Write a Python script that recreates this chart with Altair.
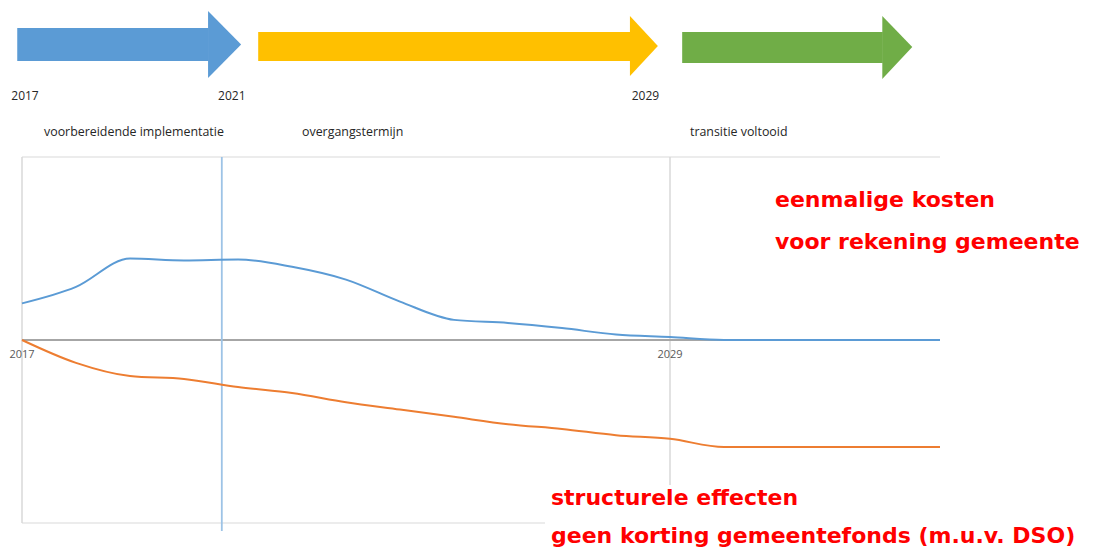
import altair as alt
import pandas as pd

# ---------------- data ----------------
years = list(range(2017, 2035))
eenmalige_kosten = [20, 29, 44.5, 43.5, 44, 40, 33, 21, 11, 9.3, 6.5, 3, 1.6, 0, 0, 0, 0, 0]
structurele_effecten = [0, -12.5, -19.7, -21.3, -25.7, -29, -34, -38, -42, -46, -48.6, -52, -54,
                        -58.5, -58.5, -58.5, -58.5, -58.5]

tick_years = [2017, 2029]
timeline_years = [2017, 2021, 2029]
marker_year = [2020.7]

arrow_names = ["voorbereiding", "overgang", "voltooid"]
arrow_start = [2016.85, 2021.51, 2029.71]
arrow_head_base = [2020.54, 2028.70, 2033.58]
arrow_tip = [2021.18, 2029.24, 2034.16]
shaft_top = [0.56, 0.44, 0.44]
shaft_bottom = [-0.47, -0.47, -0.53]
head_top = [1.09, 0.94, 0.94]
head_bottom = [-1.0, -0.94, -1.03]
tip_mid = [0.05, 0.0, -0.03]
arrow_fill = ["#5B9BD5", "#FFC000", "#70AD47"]

phase_labels = ["voorbereidende implementatie", "overgangstermijn", "transitie voltooid"]
red_labels = ["eenmalige kosten", "voor rekening gemeente",
              "structurele effecten", "geen korting gemeentefonds (m.u.v. DSO)"]

# ---------------- scales ----------------
W, H = 1079, 545
x_main = alt.Scale(domain=[2017, 2034], range=[14, 932], nice=False, zero=False)
y_main = alt.Scale(domain=[-100, 100], range=[515, 149], nice=False, zero=False)
x_time = alt.Scale(domain=[2017, 2034], range=[17, 896], nice=False, zero=False)
y_arrow = alt.Scale(domain=[-1, 1], range=[70, 6], nice=False, zero=False)

# ---------------- arrows ----------------
arrow_layers = []
for i, n in enumerate(arrow_names):
    shaft_df = pd.DataFrame({"x": [arrow_start[i]], "x2": [arrow_head_base[i] + 0.01],
                             "y": [shaft_top[i]], "y2": [shaft_bottom[i]]})
    head_df = pd.DataFrame({"x": [arrow_head_base[i], arrow_tip[i]],
                            "y": [head_top[i], tip_mid[i]],
                            "y2": [head_bottom[i], tip_mid[i]]})
    shaft = alt.Chart(shaft_df).mark_rect(color=arrow_fill[i]).encode(
        x=alt.X("x:Q", scale=x_time, axis=None), x2="x2:Q",
        y=alt.Y("y:Q", scale=y_arrow, axis=None), y2="y2:Q",
    )
    head = alt.Chart(head_df).mark_area(interpolate="linear", color=arrow_fill[i]).encode(
        x=alt.X("x:Q", scale=x_time, axis=None),
        y=alt.Y("y:Q", scale=y_arrow, axis=None, stack=None),
        y2="y2:Q",
    )
    arrow_layers += [shaft, head]

top_years = alt.Chart(pd.DataFrame({"yr": timeline_years})).mark_text(
    font="Open Sans", fontSize=12, color="#262626", baseline="middle"
).encode(
    x=alt.X("yr:Q", scale=x_time, axis=None),
    y=alt.value(88),
    text=alt.Text("yr:Q", format="d"),
)

def plain_text(label, px, py, **kw):
    return alt.Chart(pd.DataFrame({"t": [label]})).mark_text(align="left", baseline="middle", **kw).encode(
        text="t:N", x=alt.value(px), y=alt.value(py))

phase_kw = dict(font="Open Sans", fontSize=12.4, color="#262626")
phases = [plain_text(phase_labels[0], 36, 124, **phase_kw),
          plain_text(phase_labels[1], 294, 124, **phase_kw),
          plain_text(phase_labels[2], 682, 124, **phase_kw)]

# ---------------- main plot ----------------
frame_h = alt.Chart(pd.DataFrame({"v": [100, -100], "a": [2017, 2017], "b": [2034, 2034]})).mark_rule(
    color="#d9d9d9", strokeWidth=1.2
).encode(
    y=alt.Y("v:Q", scale=y_main, axis=None),
    x=alt.X("a:Q", scale=x_main, axis=None),
    x2="b:Q",
)

grid_v = alt.Chart(pd.DataFrame({"yr": tick_years, "top": [100, 100], "bot": [-100, -100]})).mark_rule(
    color="#d9d9d9", strokeWidth=1.5
).encode(
    x=alt.X("yr:Q", scale=x_main, axis=None),
    y=alt.Y("top:Q", scale=y_main, axis=None),
    y2="bot:Q",
)

zero_line = alt.Chart(pd.DataFrame({"v": [0], "a": [2017], "b": [2034]})).mark_rule(
    color="#a6a6a6", strokeWidth=1.8
).encode(
    y=alt.Y("v:Q", scale=y_main, axis=None),
    x=alt.X("a:Q", scale=x_main, axis=None),
    x2="b:Q",
)

marker = alt.Chart(pd.DataFrame({"yr": marker_year, "top": [100]})).mark_rule(
    color="#9DC3E6", strokeWidth=1.8
).encode(
    x=alt.X("yr:Q", scale=x_main, axis=None),
    y=alt.Y("top:Q", scale=y_main, axis=None),
    y2=alt.value(523),
)

line_df = pd.DataFrame({"year": years, "eenmalig": eenmalige_kosten, "structureel": structurele_effecten})

blue_line = alt.Chart(line_df).mark_line(interpolate="monotone", strokeWidth=2, color="#5B9BD5").encode(
    x=alt.X("year:Q", scale=x_main, axis=None),
    y=alt.Y("eenmalig:Q", scale=y_main, axis=None),
)
orange_line = alt.Chart(line_df).mark_line(interpolate="monotone", strokeWidth=2, color="#ED7D31").encode(
    x=alt.X("year:Q", scale=x_main, axis=None),
    y=alt.Y("structureel:Q", scale=y_main, axis=None),
)

axis_labels = alt.Chart(pd.DataFrame({"yr": tick_years, "v": [0, 0]})).mark_text(
    font="Open Sans", fontSize=11, color="#595959", baseline="middle", dy=15
).encode(
    x=alt.X("yr:Q", scale=x_main, axis=None),
    y=alt.Y("v:Q", scale=y_main, axis=None),
    text=alt.Text("yr:Q", format="d"),
)

white_box = alt.Chart(pd.DataFrame({"t": [""]})).mark_rect(color="white").encode(
    x=alt.value(537), x2=alt.value(W), y=alt.value(477), y2=alt.value(H)
)

red_kw = dict(font="DejaVu Sans", fontWeight="bold", fontSize=22, color="#FF0000")
reds = [plain_text(red_labels[0], 767, 192, **red_kw),
        plain_text(red_labels[1], 767, 234, **red_kw),
        plain_text(red_labels[2], 543, 490, **red_kw),
        plain_text(red_labels[3], 543, 528, **red_kw)]

layers = arrow_layers + [top_years] + phases + [frame_h, grid_v, zero_line, marker, blue_line, orange_line,
                                                axis_labels, white_box] + reds

chart = alt.layer(*layers).resolve_scale(
    x="independent", y="independent"
).properties(
    width=W, height=H, padding=0, autosize=alt.AutoSizeParams(type="none")
).configure_view(stroke=None)

chart.save("out.html", embed_options={"renderer": "svg", "actions": False})
